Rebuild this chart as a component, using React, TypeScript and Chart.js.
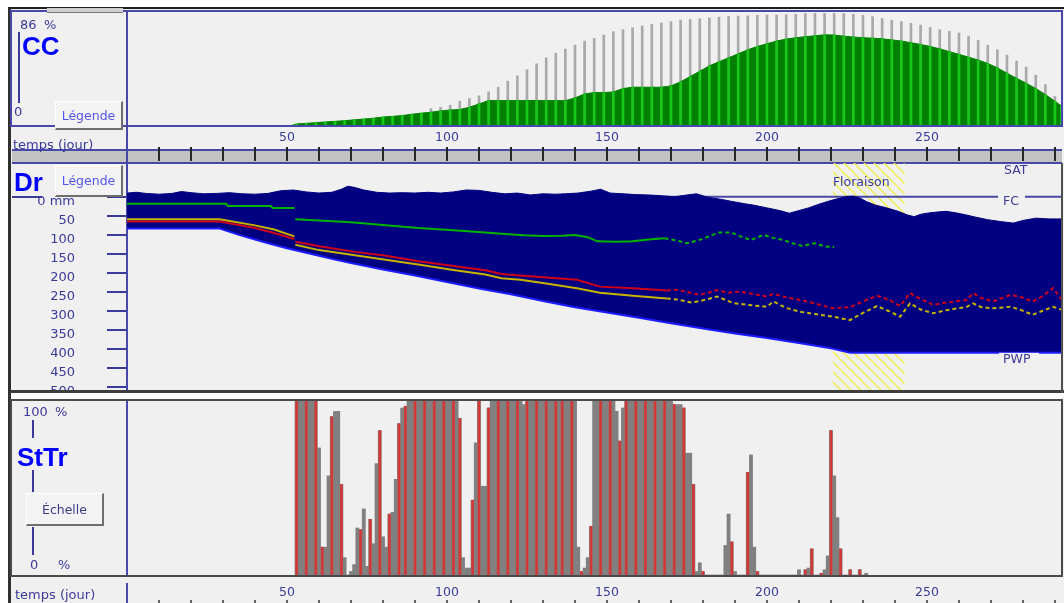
import React, { useEffect, useRef } from 'react';
import { Chart, registerables } from 'chart.js';

Chart.register(...registerables);

// ---------------- shared time axis ----------------
const dayMin = 0;
const dayMax = 292.2;
const timeLabelDays = [50, 100, 150, 200, 250];
const timeMinorDays = [10, 20, 30, 40, 50, 60, 70, 80, 90, 100, 110, 120, 130, 140, 150, 160, 170, 180, 190, 200, 210, 220, 230, 240, 250, 260, 270, 280, 290];

// ---------------- CC panel (canopy cover, %) ----------------
const ccMax = 86;
const ccDays = [52, 53, 56, 59, 62, 65, 68, 71, 74, 77, 80, 83, 86, 89, 92, 95, 98, 101, 104, 107, 110, 113, 116, 119, 122, 125, 128, 131, 134, 137, 140, 143, 146, 149, 152, 155, 158, 161, 164, 167, 170, 173, 176, 179, 182, 185, 188, 191, 194, 197, 200, 203, 206, 209, 212, 215, 218, 221, 224, 227, 230, 233, 236, 239, 242, 245, 248, 251, 254, 257, 260, 263, 266, 269, 272, 275, 278, 281, 284, 287, 290, 292];
const ccActual = [1,
  1.5, 2, 2.5, 3, 3.5, 4, 4.6, 5.2, 5.8, 6.7,
  7.2, 7.8, 8.8, 9.6, 10.3, 11.3, 12, 12.3, 14, 16.5,
  19, 19, 19, 19, 19, 19, 19, 19, 19, 21,
  24, 25, 25, 25.5, 28, 29, 29, 29, 29, 30,
  33, 37, 41, 45, 48, 51, 54, 57, 59.5, 61.5,
  63.5, 65, 66, 66.8, 67.5, 68.2, 68, 67.2, 66.5, 66,
  65.7, 65.2, 64.4, 63.5, 62.3, 61, 59.5, 57.7, 55.6, 53.6,
  51.5, 49.3, 46.8, 43.5, 39.5, 35.7, 32, 28, 23.5, 18.5,
  15];
const ccPotential = [null,
  null, null, null, null, null, null, null, null, null, null,
  null, null, null, null, 13, 14, 15.5, 18.5, 20.5, 22.5,
  25.5, 29, 33.5, 37.5, 42, 46.5, 51, 54.5, 57.5, 60.5,
  63.5, 65.5, 68, 70.5, 72, 73.5, 74.8, 76, 77, 78,
  79.2, 79.8, 80.2, 80.8, 81.4, 81.9, 82.2, 82.4, 82.8, 83,
  83, 83.2, 83.6, 84, 84.2, 84.2, 84.2, 84, 83.6, 82.8,
  81.8, 80.3, 79, 78, 76.8, 75.5, 73.8, 72, 70.8, 69.6,
  67.2, 64, 60.5, 57, 53, 48.5, 44, 38, 31, 22,
  null];

// ---------------- Dr panel (root zone depletion, mm) ----------------
const drMin = -89;
const drMax = 513;
const drTicks = [0, 50, 100, 150, 200, 250, 300, 350, 400, 450, 500];
const drTopDays = [0, 3, 6, 10, 14, 17, 20, 24, 28, 32, 36, 40, 44, 48, 52, 56, 60, 64, 67, 69, 71, 74, 78, 82, 86, 90, 94, 98, 102, 106, 110, 114, 118, 122, 126, 130, 134, 137, 141, 145, 148, 151, 155, 159, 163, 167, 171, 175, 178, 181, 183, 186, 189, 193, 196, 200, 204, 207, 210, 213, 216, 219, 222, 225, 227, 229, 231, 234, 237, 241, 244, 246, 248, 250, 253, 256, 259, 262, 265, 269, 273, 277, 280, 284, 288, 292.2];
const drTopVals = [-10, -12, -9, -7, -9, -14, -11, -8, -9, -11, -8, -7, -9, -16, -18, -13, -10, -12, -20, -28, -25, -18, -12, -10, -11, -10, -12, -10, -13, -18, -17, -12, -8, -10, -5, -8, -7, -8, -10, -15, -20, -10, -8, -6, -5, -3, 0, -5, -8, 0, 3, 7, 12, 18, 22, 29, 36, 43, 36, 29, 20, 12, 5, -1, -2, 3, 12, 22, 28, 38, 48, 52, 46, 43, 40, 38, 42, 47, 53, 60, 65, 69, 62, 56, 58, 58];
const drBottomDays = [0, 29, 35, 40, 45, 50, 55, 60, 65, 70, 80, 90, 100, 110, 120, 130, 140, 150, 160, 170, 180, 190, 200, 210, 220, 226, 292.2];
const drBottomVals = [83, 83, 100, 112, 124, 135, 145, 155, 165, 174, 191, 207, 224, 241, 256, 274, 290, 304, 318, 332, 346, 359, 371, 384, 398, 410, 410];
const greenDays = [0, 31, 31.5, 45, 45.5, 52.3, 52.4, 52.6, 60, 70, 80, 91, 102, 112, 117, 124, 130, 136, 140, 144, 147, 153, 158, 163, 168, 172, 175, 179, 183, 185, 189, 192, 195, 199, 202, 205, 208, 211, 215, 218, 221];
const greenVals = [18, 18, 24, 24, 29, 29, null, 59, 62, 67, 74, 82, 88, 94, 97, 101, 103, 102, 100, 106, 117, 118, 117, 112, 109, 115, 122, 113, 100, 94, 94, 105, 113, 100, 108, 113, 122, 129, 122, 130, 132];
const redDays = [0, 29, 40, 46, 52.3, 52.4, 52.6, 60, 70.7, 81, 91, 102, 112, 117, 123, 131, 140.6, 147.8, 158, 168.7, 172, 176, 179, 184.4, 188, 191.6, 196, 200, 202, 206, 210.3, 215, 220.6, 226, 230, 234.4, 238, 241.6, 244.7, 248, 251.9, 256, 262.5, 264.4, 267, 270.6, 276, 279, 283, 286, 289.4, 292.2];
const redVals = [65, 65, 82, 95, 111, null, 118, 130, 144, 155, 169, 182, 193, 203, 207, 212, 218, 236, 240, 246, 244, 252, 258, 245, 252, 249, 256, 262, 255, 264, 271, 280, 293, 290, 275, 260, 270, 287, 253, 268, 284, 278, 271, 253, 266, 275, 258, 262, 275, 262, 240, 271];
const yellowDays = [0, 29, 40, 46, 52.3, 52.4, 52.6, 60, 70.7, 81.3, 91, 102, 112, 117, 123, 131, 140.6, 147.8, 158, 168.7, 172, 176.5, 180, 184.4, 189.4, 194, 200, 202, 206, 210.3, 215, 220.6, 226, 230, 234.4, 238, 241.6, 244.7, 248, 251.9, 256, 262.5, 264.4, 267, 270.6, 276, 279, 283, 286, 289.4, 292.2];
const yellowVals = [59, 59, 75, 86, 104, null, 126, 140, 153, 166, 178, 192, 204, 214, 218, 228, 240, 252, 260, 267, 270, 278, 272, 262, 279, 284, 289, 275, 292, 302, 308, 315, 324, 305, 287, 300, 315, 280, 296, 306, 298, 289, 280, 290, 293, 289, 296, 310, 300, 289, 297];
const floraisonDays = [220.6, 243];
const fcLevel = 0;
const pwpLevel = 410;
const dottedFromDay = 168;

// ---------------- StTr panel (stomatal stress, %) ----------------
const sttrFirstDay = 53;
const sttrValues = [
  100, 100, 100, 100, 100, 100, 100,
  73, 16, 16, 57, 91, 94, 94, 52, 10, 0, 2, 6, 27, 26, 38, 5, 32, 18, 64, 83, 22, 16, 35, 36, 55, 87, 96, 97,
  100, 100, 100, 100, 100, 100, 100, 100, 100, 100, 100, 100, 100, 100, 100, 100,
  90, 10, 4, 4, 43, 76, 100, 51, 51, 96,
  100, 100, 100, 100, 100, 100, 100, 100, 100, 100,
  98,
  100, 100, 100, 100, 100, 100, 100, 100, 100, 100, 100, 100, 100, 100, 100, 100,
  16, 2, 4, 10, 28,
  100, 100, 100, 100, 100, 100, 100,
  94, 77, 96,
  100, 100, 100, 100, 100, 100, 100, 100, 100, 100, 100, 100, 100, 100, 100,
  98, 98, 98, 96, 70, 70, 52, 2, 7, 2,
  0, 0, 0, 0, 0, 0,
  17, 35, 19, 2,
  0, 0, 0,
  59, 69, 16, 2,
  0, 0, 0, 0, 0, 0, 0, 0, 0, 0, 0, 0,
  3, 0, 3, 4, 15, 0, 0, 1, 3, 11, 83, 57, 33, 15, 0, 0, 3, 0, 0, 3, 0, 1,
];
const sttrMarkDays = [53, 56, 59, 61, 64, 67, 73, 76, 79, 82, 85, 87, 90, 93, 96, 99, 102, 104, 108, 110, 113, 116, 119, 122, 125, 128, 131, 134, 136, 139, 142, 145, 148, 151, 154, 156, 159, 162, 165, 168, 171, 174, 177, 180, 189, 194, 197, 212, 214, 217, 220, 223, 226, 229];

// ---------------- styles ----------------
const TXT = '#3a3a9a';
const FRAME_BLUE = '#4848a8';
const SMALL_FONT = '"DejaVu Sans", Verdana, sans-serif';
const TITLE_FONT = '"Liberation Sans", Arial, sans-serif';
const NAVY = '#000080';

const pts = (xs: number[], ys: (number | null)[]) => xs.map((x, i) => ({ x, y: ys[i] }));

const tickFont = { family: SMALL_FONT, size: 12.5 };

const timeBarPlugin = {
  id: 'timeBar',
  afterDraw(chart: any) {
    const { ctx, chartArea } = chart;
    const x = chart.scales.x;
    const top = 140;
    const bottom = 153;
    ctx.save();
    ctx.fillStyle = '#c3c3c3';
    ctx.fillRect(2, top, chartArea.right - 2, bottom - top);
    ctx.strokeStyle = FRAME_BLUE;
    ctx.lineWidth = 2;
    ctx.beginPath();
    ctx.moveTo(2, top);
    ctx.lineTo(chartArea.right, top);
    ctx.moveTo(2, bottom);
    ctx.lineTo(chartArea.right, bottom);
    ctx.stroke();
    ctx.strokeStyle = '#262626';
    ctx.lineWidth = 2;
    ctx.beginPath();
    for (const d of timeMinorDays) {
      const px = Math.round(x.getPixelForValue(d));
      ctx.moveTo(px, top - 3);
      ctx.lineTo(px, bottom - 2);
    }
    ctx.stroke();
    ctx.restore();
  },
};

const drDecorPlugin = {
  id: 'drDecor',
  beforeDatasetsDraw(chart: any) {
    const { ctx, chartArea: ca } = chart;
    const { x, y } = chart.scales;
    const x0 = x.getPixelForValue(floraisonDays[0]);
    const x1 = x.getPixelForValue(floraisonDays[1]);
    const h = ca.bottom - ca.top;
    ctx.save();
    ctx.beginPath();
    ctx.rect(x0, ca.top, x1 - x0, h);
    ctx.clip();
    ctx.strokeStyle = '#efef5a';
    ctx.lineWidth = 1.6;
    ctx.beginPath();
    for (let k = x0 - h; k < x1 + 10; k += 10) {
      ctx.moveTo(k, ca.top);
      ctx.lineTo(k + h, ca.bottom);
    }
    ctx.stroke();
    ctx.restore();

    const fy = y.getPixelForValue(fcLevel);
    ctx.save();
    ctx.strokeStyle = FRAME_BLUE;
    ctx.lineWidth = 2;
    ctx.beginPath();
    ctx.moveTo(ca.left, fy);
    ctx.lineTo(ca.right - 64, fy);
    ctx.moveTo(ca.right - 37, fy);
    ctx.lineTo(ca.right, fy);
    ctx.stroke();
    ctx.restore();
  },
  afterDatasetsDraw(chart: any) {
    const { ctx, chartArea: ca } = chart;
    const { x, y } = chart.scales;
    const fy = y.getPixelForValue(fcLevel);
    const py = y.getPixelForValue(pwpLevel);
    const x0 = x.getPixelForValue(floraisonDays[0]);
    ctx.save();
    ctx.font = `12.5px ${SMALL_FONT}`;
    ctx.textBaseline = 'middle';
    ctx.textAlign = 'left';
    ctx.fillStyle = TXT;
    ctx.fillText('Floraison', x0, fy - 14);
    ctx.fillText('SAT', ca.right - 58, fy - 26);
    ctx.fillText('FC', ca.right - 59, fy + 5);
    ctx.fillStyle = '#f0f0f0';
    ctx.fillRect(ca.right - 63, py, 40, 15);
    ctx.fillStyle = TXT;
    ctx.fillText('PWP', ca.right - 59, py + 7);
    ctx.restore();
  },
};

const bottomTicksPlugin = {
  id: 'bottomTicks',
  afterDraw(chart: any) {
    const { ctx } = chart;
    const x = chart.scales.x;
    ctx.save();
    ctx.strokeStyle = '#333';
    ctx.lineWidth = 1.5;
    ctx.beginPath();
    for (const d of timeMinorDays) {
      const px = Math.round(x.getPixelForValue(d));
      ctx.moveTo(px, 201);
      ctx.lineTo(px, 204);
    }
    ctx.stroke();
    ctx.restore();
  },
};

const hiddenX = { type: 'linear', min: dayMin, max: dayMax, display: false, offset: false, grid: { offset: false } };

function timeAxis(height: number, padding: number) {
  return {
    type: 'linear',
    position: 'bottom',
    min: dayMin,
    max: dayMax,
    offset: false,
    afterBuildTicks: (s: any) => { s.ticks = timeLabelDays.map((v) => ({ value: v })); },
    afterFit: (s: any) => { s.height = height; s.paddingLeft = 0; s.paddingRight = 0; },
    grid: { display: false, drawTicks: false, offset: false },
    border: { display: false },
    ticks: { color: TXT, font: tickFont, padding, maxRotation: 0, autoSkip: false },
  };
}

const baseOptions = {
  responsive: false,
  maintainAspectRatio: false,
  animation: false,
  devicePixelRatio: 1,
  events: [],
  plugins: { legend: { display: false }, tooltip: { enabled: false } },
};

function ccConfig(): any {
  return {
    type: 'line',
    data: {
      datasets: [
        {
          type: 'bar', label: 'CC potentiel', xAxisID: 'x2',
          data: pts(ccDays, ccPotential).filter((p) => p.y !== null),
          backgroundColor: '#a9a9a9', barThickness: 2, grouped: false, order: 3,
        },
        {
          type: 'line', label: 'CC', xAxisID: 'x',
          data: pts(ccDays, ccActual),
          fill: 'origin', backgroundColor: '#008000', borderColor: '#008000', borderWidth: 1,
          pointRadius: 0, tension: 0, order: 2,
        },
        {
          type: 'bar', label: 'CC marques', xAxisID: 'x2',
          data: pts(ccDays, ccActual),
          backgroundColor: '#18c818', barThickness: 2, grouped: false, order: 1,
        },
      ],
    },
    options: {
      ...baseOptions,
      layout: { padding: { left: 117, right: 1, top: 1, bottom: 0 } },
      scales: {
        x: timeAxis(38, 4),
        x2: hiddenX,
        y: { type: 'linear', min: 0, max: ccMax, display: false },
      },
    },
    plugins: [timeBarPlugin],
  };
}

function drConfig(): any {
  const dotted = (ctx: any) => (ctx.p0.parsed.x >= dottedFromDay ? [4, 3] : undefined);
  return {
    type: 'line',
    data: {
      datasets: [
        {
          label: 'Dr', data: pts(drTopDays, drTopVals), fill: '+1',
          backgroundColor: NAVY, borderColor: NAVY, borderWidth: 1, pointRadius: 0, tension: 0, order: 5,
        },
        {
          label: 'PWP', data: pts(drBottomDays, drBottomVals), fill: false,
          borderColor: '#1c1cff', borderWidth: 2, pointRadius: 0, tension: 0, order: 4,
        },
        {
          label: 'seuil vert', data: pts(greenDays, greenVals), fill: false,
          borderColor: '#00b400', borderWidth: 2, pointRadius: 0, tension: 0, order: 1,
          segment: { borderDash: dotted },
        },
        {
          label: 'seuil rouge', data: pts(redDays, redVals), fill: false,
          borderColor: '#d00018', borderWidth: 2, pointRadius: 0, tension: 0, order: 2,
          segment: { borderDash: dotted },
        },
        {
          label: 'seuil jaune', data: pts(yellowDays, yellowVals), fill: false,
          borderColor: '#c8b400', borderWidth: 2, pointRadius: 0, tension: 0, order: 1,
          segment: { borderDash: dotted },
        },
      ],
    },
    options: {
      ...baseOptions,
      layout: { padding: { left: 0, right: 1, top: 0, bottom: 1 } },
      scales: {
        x: { type: 'linear', min: dayMin, max: dayMax, display: false },
        y: {
          type: 'linear', position: 'left', reverse: true, min: drMin, max: drMax,
          afterBuildTicks: (s: any) => { s.ticks = drTicks.map((v) => ({ value: v })); },
          afterFit: (s: any) => { s.width = 117; s.paddingTop = 0; s.paddingBottom = 0; },
          grid: { drawOnChartArea: false, drawTicks: true, tickLength: 20, color: TXT, lineWidth: 2 },
          border: { display: true, color: FRAME_BLUE, width: 2 },
          ticks: {
            color: TXT, font: { family: SMALL_FONT, size: 13 }, padding: 32, labelOffset: 5, autoSkip: false,
            callback: (v: any) => (Number(v) === 0 ? '0 mm' : String(v)),
          },
        },
      },
    },
    plugins: [drDecorPlugin],
  };
}

function sttrConfig(): any {
  return {
    type: 'bar',
    data: {
      datasets: [
        {
          label: 'StTr', xAxisID: 'x',
          data: sttrValues.map((v, i) => ({ x: sttrFirstDay + i, y: v })),
          backgroundColor: '#808080', barPercentage: 1, categoryPercentage: 1, grouped: false, order: 2,
        },
        {
          label: 'StTr marques', xAxisID: 'x2',
          data: sttrMarkDays.map((d) => ({ x: d, y: sttrValues[d - sttrFirstDay] })),
          backgroundColor: '#d23838', barThickness: 2, grouped: false, order: 1,
        },
      ],
    },
    options: {
      ...baseOptions,
      layout: { padding: { left: 117, right: 1, top: 2, bottom: 0 } },
      scales: {
        x: timeAxis(28, 10),
        x2: hiddenX,
        y: { type: 'linear', min: 0, max: 100, display: false },
      },
    },
    plugins: [bottomTicksPlugin],
  };
}

const abs = (left: number, top: number, width: number, height: number, extra: any = {}) => ({
  position: 'absolute' as const, left, top, width, height, boxSizing: 'border-box' as const, ...extra,
});

function Txt({ left, top, children, style }: any) {
  return (
    <div style={{ position: 'absolute', left, top, fontFamily: SMALL_FONT, fontSize: 13, lineHeight: '15px', color: TXT, whiteSpace: 'nowrap', ...style }}>
      {children}
    </div>
  );
}

function Title({ left, top, children }: any) {
  return (
    <div style={{ position: 'absolute', left, top, fontFamily: TITLE_FONT, fontWeight: 700, fontSize: 26, lineHeight: '26px', color: '#0000ff', whiteSpace: 'nowrap' }}>
      {children}
    </div>
  );
}

function WinButton({ left, top, width, height, label, color }: any) {
  return (
    <div
      style={{
        ...abs(left, top, width, height),
        background: '#f3f3f3',
        borderTop: '1px solid #ffffff',
        borderLeft: '1px solid #ffffff',
        borderRight: '2px solid #6e6e6e',
        borderBottom: '2px solid #6e6e6e',
        display: 'flex', alignItems: 'center', justifyContent: 'center',
        fontFamily: SMALL_FONT, fontSize: 12.5, color,
      }}
    >
      {label}
    </div>
  );
}

export default function App() {
  const ccRef = useRef<HTMLCanvasElement>(null);
  const drRef = useRef<HTMLCanvasElement>(null);
  const stRef = useRef<HTMLCanvasElement>(null);

  useEffect(() => {
    const charts = [
      new Chart(ccRef.current as HTMLCanvasElement, ccConfig()),
      new Chart(drRef.current as HTMLCanvasElement, drConfig()),
      new Chart(stRef.current as HTMLCanvasElement, sttrConfig()),
    ];
    return () => charts.forEach((c) => c.destroy());
  }, []);

  return (
    <div style={{ position: 'fixed', left: 0, top: 0, width: 1064, height: 603, overflow: 'hidden', background: '#ffffff' }}>
      {/* window background */}
      <div style={abs(8, 7, 1056, 596, { background: '#f0f0f0', borderLeft: '3px solid #303030', borderTop: '2px solid #1e1e1e' })} />
      <div style={abs(11, 393, 1053, 6, { background: '#fbfbfb' })} />

      {/* charts */}
      <canvas ref={ccRef} width={1053} height={154} style={{ position: 'absolute', left: 10, top: 10, width: 1053, height: 154 }} />
      <canvas ref={drRef} width={1053} height={230} style={{ position: 'absolute', left: 10, top: 163, width: 1053, height: 230 }} />
      <canvas ref={stRef} width={1053} height={204} style={{ position: 'absolute', left: 10, top: 399, width: 1053, height: 204 }} />

      {/* frames */}
      <div style={abs(10, 10, 1053, 117, { border: `2px solid ${FRAME_BLUE}` })} />
      <div style={abs(126, 10, 2, 153, { background: FRAME_BLUE })} />
      <div style={abs(47, 8, 76, 5, { background: '#cfcfcf', borderBottom: '1px solid #777' })} />
      <div style={abs(10, 390, 1054, 3, { background: '#3c3c3c' })} />
      <div style={abs(1061, 163, 2, 230, { background: '#505050' })} />
      <div style={abs(10, 399, 1053, 178, { border: '2px solid #4a4a4a' })} />
      <div style={abs(126, 401, 2, 174, { background: FRAME_BLUE })} />
      <div style={abs(126, 583, 2, 20, { background: FRAME_BLUE })} />

      {/* CC legend area */}
      <Txt left={20} top={17}>86</Txt>
      <Txt left={44} top={17}>%</Txt>
      <div style={abs(18, 32, 2, 71, { background: TXT })} />
      <Title left={22} top={33}>CC</Title>
      <Txt left={14} top={104}>0</Txt>
      <WinButton left={55} top={101} width={68} height={29} label="Légende" color="#5555ee" />
      <Txt left={13} top={137}>temps (jour)</Txt>

      {/* Dr legend area */}
      <Title left={14} top={169}>Dr</Title>
      <WinButton left={55} top={165} width={68} height={32} label="Légende" color="#5555ee" />
      <div style={abs(12, 196, 30, 2, { background: TXT })} />

      {/* StTr legend area */}
      <Txt left={23} top={404}>100</Txt>
      <Txt left={55} top={404}>%</Txt>
      <div style={abs(32, 420, 2, 18, { background: TXT })} />
      <div style={abs(32, 470, 2, 22, { background: TXT })} />
      <div style={abs(32, 527, 2, 28, { background: TXT })} />
      <Title left={17} top={444}>StTr</Title>
      <WinButton left={26} top={493} width={78} height={33} label="Échelle" color="#3c3c8c" />
      <Txt left={30} top={557}>0</Txt>
      <Txt left={58} top={557}>%</Txt>
      <Txt left={15} top={587}>temps (jour)</Txt>
    </div>
  );
}
